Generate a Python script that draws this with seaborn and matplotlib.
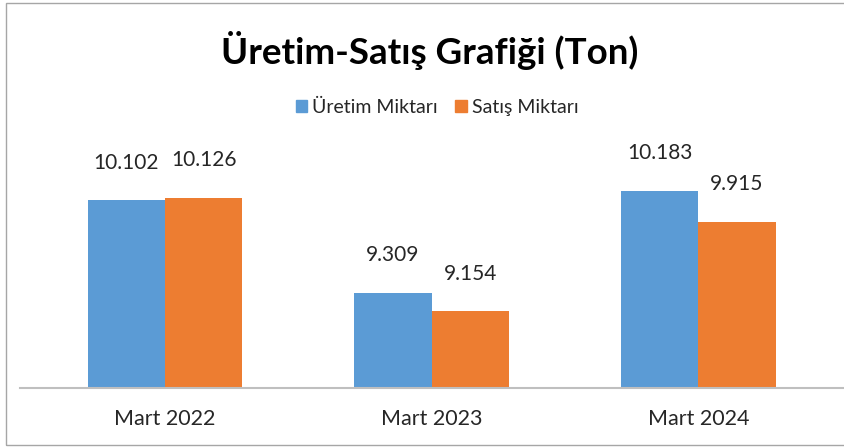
import pandas as pd
import numpy as np
import matplotlib
matplotlib.use("Agg")
import matplotlib.pyplot as plt
import matplotlib.patches as mpatches
import seaborn as sns

periods = ["Mart 2022", "Mart 2023", "Mart 2024"]
uretim = [10102, 9309, 10183]
satis = [10126, 9154, 9915]
series_names = ["Üretim Miktarı", "Satış Miktarı"]
colors = ["#5B9BD5", "#ED7D31"]

df = pd.DataFrame({
    "Dönem": periods * 2,
    "Seri": [series_names[0]] * 3 + [series_names[1]] * 3,
    "Miktar": uretim + satis,
})

sns.set_theme(style="white")
plt.rcParams["font.family"] = ["Lato", "DejaVu Sans"]

fig = plt.figure(figsize=(8.45, 4.48), dpi=100)
ax = fig.add_axes([20 / 845, 60 / 448, 825 / 845, 246 / 448])

sns.barplot(data=df, x="Dönem", y="Miktar", hue="Seri", palette=colors,
            width=0.58, gap=0, saturation=1, linewidth=0, ax=ax, legend=False)

for cont in ax.containers:
    ax.bar_label(cont, labels=[f"{v:,.0f}".replace(",", ".") for v in cont.datavalues],
                 padding=20, fontsize=15, color="#262626")

ax.set_ylim(8500, 10600)
ax.set_xlim(-0.544, 2.55)
ax.set_xlabel("")
ax.set_ylabel("")
ax.set_yticks([])
ax.tick_params(axis="x", length=0, labelsize=15.5, colors="#262626", pad=15)
for s in ["top", "right", "left"]:
    ax.spines[s].set_visible(False)
ax.spines["bottom"].set_color("#BFBFBF")
ax.spines["bottom"].set_linewidth(1.5)

fig.text(430 / 845, 1 - 50 / 448, "Üretim-Satış Grafiği (Ton)", ha="center", va="center",
         fontsize=26.5, fontweight="bold", color="black")

handles = [mpatches.Patch(color=c, label=n) for c, n in zip(colors, series_names)]
fig.legend(handles=handles, loc="center", bbox_to_anchor=(437 / 845, 1 - 107 / 448), ncol=2,
           frameon=False, fontsize=14, handlelength=0.6, handleheight=0.6,
           handletextpad=0.25, columnspacing=0.9)

fig.patches.append(mpatches.Rectangle((6 / 845, 3 / 448), 1.0, 442 / 448, transform=fig.transFigure,
                                      fill=False, edgecolor="#A6A6A6", linewidth=1))

fig.savefig("out.png", dpi=100)
